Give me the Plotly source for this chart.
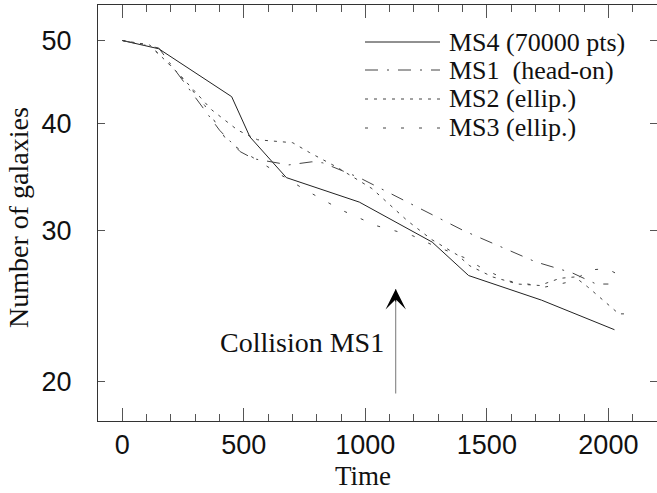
import numpy as np
import plotly.graph_objects as go

# ---- data ----
ms4_t = [0, 150, 450, 525, 675, 975, 1275, 1425, 1725, 2025]
ms4_n = [50, 48.9, 43.0, 38.6, 34.6, 32.4, 29.1, 26.6, 24.9, 23.0]

ms1_t = [0, 150, 400, 485, 540, 685, 780, 825, 975, 1405, 1700, 1850, 1950, 2000]
ms1_n = [50, 49.0, 39.3, 37.1, 36.4, 35.8, 36.1, 36.0, 34.6, 30.0, 27.6, 26.8, 26.0, 26.0]

ms2_t = [0, 113, 236, 368, 475, 557, 701, 771, 882, 1027, 1174, 1273, 1380, 1430,
         1524, 1627, 1717, 1800, 1862, 1915, 2014, 2043, 2088]
ms2_n = [50, 49.4, 45.6, 41.5, 39.3, 38.3, 38.0, 37.0, 35.6, 33.6, 30.8, 29.3, 28.1, 27.3,
         26.5, 26.0, 25.9, 26.4, 26.5, 25.8, 24.4, 24.0, 24.0]

ms3_t = [0, 105, 166, 236, 339, 433, 586, 751, 903, 1047, 1195, 1273, 1409, 1483,
         1594, 1742, 1854, 1923, 1993, 2072]
ms3_n = [50, 49.4, 47.8, 45.6, 42.0, 38.1, 35.8, 33.5, 31.7, 30.4, 29.6, 28.9, 27.9, 27.1,
         26.2, 25.8, 26.2, 27.0, 27.1, 26.4]

series_names = ["MS4 (70000 pts)", "MS1  (head-on)", "MS2 (ellip.)", "MS3 (ellip.)"]
x_ticks = [0, 500, 1000, 1500, 2000]
y_ticks = [20, 30, 40, 50]
collision_time = 1125
collision_label = "Collision MS1"

SERIF = "Liberation Serif"
SANS = "Liberation Sans"

W, H = 657, 493
L, R, T, B = 98, 0, 5, 72
pw, ph = W - L - R, H - T - B


def px_x(p):
    return (p - L) / pw


def px_y(p):
    return (H - B - p) / ph


fig = go.Figure()
styles = [
    dict(color="#222222", width=1, dash="solid"),
    dict(color="#444444", width=1, dash="13px,9px,2px,9px"),
    dict(color="#444444", width=1, dash="3px,6px"),
    dict(color="#444444", width=1, dash="3px,15px"),
]
for (t, n), name, st in zip([(ms4_t, ms4_n), (ms1_t, ms1_n), (ms2_t, ms2_n), (ms3_t, ms3_n)],
                            series_names, styles):
    fig.add_trace(go.Scatter(x=t, y=n, mode="lines", name=name, line=st, showlegend=False))

# key (drawn in the top-right corner like the original)
key_rows = [42, 70, 99, 128]
for name, st, yy in zip(series_names, styles, key_rows):
    fig.add_shape(type="line", xref="paper", yref="paper",
                  x0=px_x(365), x1=px_x(440), y0=px_y(yy), y1=px_y(yy),
                  line=dict(color=st["color"], width=1, dash=st["dash"]))
    fig.add_annotation(x=px_x(447), y=px_y(yy), xref="paper", yref="paper", text=name,
                       showarrow=False, xanchor="left", yanchor="middle",
                       font=dict(family=SERIF, size=26, color="#111111"))

axis_common = dict(
    showgrid=False, zeroline=False, showline=True, linecolor="#333333", linewidth=1,
    mirror="ticks", ticks="inside", tickcolor="#555555",
    tickfont=dict(family=SANS, size=27, color="#111111"),
)
fig.update_xaxes(
    range=[-100, 2200], tickvals=x_ticks, ticklen=13,
    minor=dict(dtick=100, ticks="inside", ticklen=7, tickcolor="#555555"),
    ticklabelstandoff=0, **axis_common)
fig.update_yaxes(
    type="log", range=[np.log10(18), np.log10(55)], tickvals=y_ticks,
    ticktext=[str(v) for v in y_ticks], ticklen=7, ticklabelstandoff=20, **axis_common)

# arrow (gray shaft, black head)
tip = np.log10(25.65)
tail = np.log10(19.3)
fig.add_annotation(x=collision_time, y=tip, ax=collision_time, ay=tail, axref="x", ayref="y",
                   xref="x", yref="y", showarrow=True, arrowhead=0, arrowwidth=1,
                   arrowcolor="#777777", text="")
fig.add_annotation(x=collision_time, y=tip, ax=0, ay=14, xref="x", yref="y",
                   showarrow=True, arrowhead=3, arrowsize=3.4, arrowwidth=1,
                   arrowcolor="#000000", text="")
fig.add_annotation(x=1086, y=np.log10(22.25), xref="x", yref="y", text=collision_label,
                   showarrow=False, xanchor="right", yanchor="middle",
                   font=dict(family=SERIF, size=28, color="#111111"))

# axis titles
fig.add_annotation(x=px_x(363), y=px_y(476), xref="paper", yref="paper", text="Time",
                   showarrow=False, xanchor="center", yanchor="middle",
                   font=dict(family=SERIF, size=27, color="#111111"))
fig.add_annotation(x=px_x(18), y=px_y(218), xref="paper", yref="paper",
                   text="Number of galaxies", textangle=-90,
                   showarrow=False, xanchor="center", yanchor="middle",
                   font=dict(family=SERIF, size=28, color="#111111"))

fig.update_layout(
    width=W, height=H, margin=dict(l=L, r=R, t=T, b=B),
    plot_bgcolor="white", paper_bgcolor="white",
    showlegend=False,
)

fig.write_html("out.html")
